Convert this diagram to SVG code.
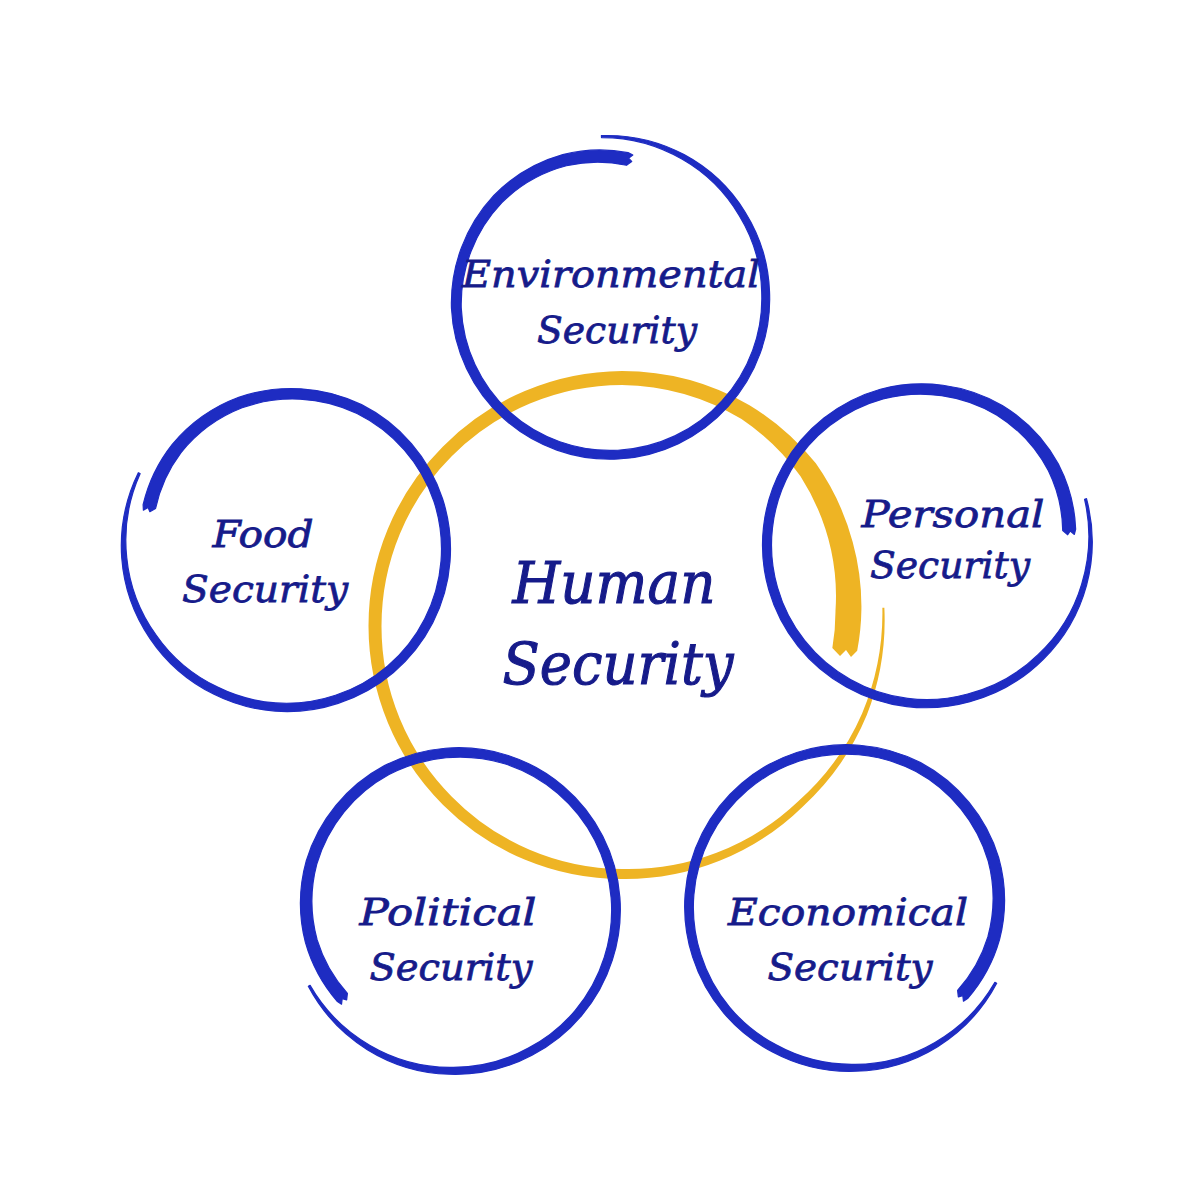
<svg xmlns="http://www.w3.org/2000/svg" xmlns:xlink="http://www.w3.org/1999/xlink" width="1200" height="1183" viewBox="0 0 1200 1183">
<style>
  .bg { fill: #ffffff; }
  .blue { fill: #1e2cc2; stroke: #1e2cc2; stroke-width: 1.2; stroke-linejoin: round; }
  .yellow { fill: #eeb424; }
  .lbl { font-family: "DejaVu Serif", "Liberation Serif", serif; font-style: italic; fill: #161b8a; stroke: #161b8a; stroke-width: 0.8; font-size: 38px; text-anchor: middle; }
  .big { font-size: 58px; stroke-width: 1.1; }
</style>
<defs>
  <!-- brush-stroke ring: thin tail at angle 0 (outside), clockwise, thick blunt end inside -->
  <path id="brushA" d="M 168 0 A 167 167 0 0 1 144.19 83.25 A 165 165 0 0 1 82.25 142.46 A 164 164 0 0 1 0 163 A 163 163 0 0 1 -114.73 114.73 A 162.5 162.5 0 0 1 -162.5 0 A 162.5 162.5 0 0 1 -114.90 -114.90 A 162 162 0 0 1 0 -162 A 161 161 0 0 1 112.78 -112.78 A 158 158 0 0 1 150.68 -40.37 A 154 154 0 0 1 149.20 26.30 L 146.5 31 L 143.5 26.5 L 140 29.5 L 136.39 24.04 A 141 141 0 0 0 139.09 -37.27 A 146 146 0 0 0 105.00 -105.00 A 150 150 0 0 0 0 -152 A 153 153 0 0 0 -108.54 -108.54 A 153.5 153.5 0 0 0 -153.5 0 A 153.6 153.6 0 0 0 -108.72 108.72 A 154.5 154.5 0 0 0 0 155 A 156 156 0 0 0 78.75 136.40 A 159 159 0 0 0 139.86 80.75 A 163 163 0 0 0 166 0 Z"/>
</defs>
<rect class="bg" x="0" y="0" width="1200" height="1183"/>

<g id="human-security">
  <path class="yellow" transform="translate(622 626)" d="M 262.36 -18.35 A 262 262 0 0 1 244.79 89.10 A 258 258 0 0 1 180.67 180.67 A 254 254 0 0 1 0 253 A 253 253 0 0 1 -178.90 178.90 A 253 253 0 0 1 -253.5 0 A 253.5 253.5 0 0 1 -179.25 -179.25 A 254 254 0 0 1 0 -255 A 255 255 0 0 1 127.5 -220.84 A 255 255 0 0 1 193.81 -162.63 A 249 249 0 0 1 230.69 -83.97 A 243 243 0 0 1 239.41 -16.74 A 238 238 0 0 1 235.20 24.72 L 229 31 L 224 24 L 218 30 L 210.34 22.11 A 212 212 0 0 0 213.48 -14.93 A 218 218 0 0 0 209.08 -76.10 A 228 228 0 0 0 178.49 -149.77 A 236 236 0 0 0 119.5 -206.98 A 240 240 0 0 0 0 -241 A 240.5 240.5 0 0 0 -170.06 -170.06 A 240.5 240.5 0 0 0 -240.5 0 A 241 241 0 0 0 -170.41 170.41 A 242 242 0 0 0 0 243 A 246 246 0 0 0 175.72 175.72 A 252 252 0 0 0 240.09 87.39 A 258 258 0 0 0 260.36 -18.21 Z"/>
  <text class="lbl big" x="614" y="603" textLength="203" lengthAdjust="spacingAndGlyphs">Human</text>
  <text class="lbl big" x="618" y="684" textLength="231" lengthAdjust="spacingAndGlyphs">Security</text>
</g>

<g id="environmental-security">
  <use href="#brushA" xlink:href="#brushA" class="blue" transform="translate(610 300) rotate(-93) scale(0.98)"/>
  <text class="lbl" x="611" y="287" textLength="298" lengthAdjust="spacingAndGlyphs">Environmental</text>
  <text class="lbl" x="617" y="343" textLength="160" lengthAdjust="spacingAndGlyphs">Security</text>
</g>

<g id="food-security">
  <use href="#brushA" xlink:href="#brushA" class="blue" transform="translate(288 549) rotate(207) scale(1 -1)"/>
  <text class="lbl" x="263" y="547" textLength="101" lengthAdjust="spacingAndGlyphs">Food</text>
  <text class="lbl" x="265" y="602" textLength="166" lengthAdjust="spacingAndGlyphs">Security</text>
</g>

<g id="personal-security">
  <use href="#brushA" xlink:href="#brushA" class="blue" transform="translate(925 545) rotate(-16)"/>
  <text class="lbl" x="953" y="527" textLength="183" lengthAdjust="spacingAndGlyphs">Personal</text>
  <text class="lbl" x="950" y="578" textLength="160" lengthAdjust="spacingAndGlyphs">Security</text>
</g>

<g id="political-security">
  <use href="#brushA" xlink:href="#brushA" class="blue" transform="translate(458 910) rotate(153) scale(1 -1)"/>
  <text class="lbl" x="448" y="925" textLength="177" lengthAdjust="spacingAndGlyphs">Political</text>
  <text class="lbl" x="451" y="980" textLength="163" lengthAdjust="spacingAndGlyphs">Security</text>
</g>

<g id="economical-security">
  <use href="#brushA" xlink:href="#brushA" class="blue" transform="translate(847 907) rotate(27)"/>
  <text class="lbl" x="848" y="925" textLength="240" lengthAdjust="spacingAndGlyphs">Economical</text>
  <text class="lbl" x="850" y="980" textLength="165" lengthAdjust="spacingAndGlyphs">Security</text>
</g>
</svg>
